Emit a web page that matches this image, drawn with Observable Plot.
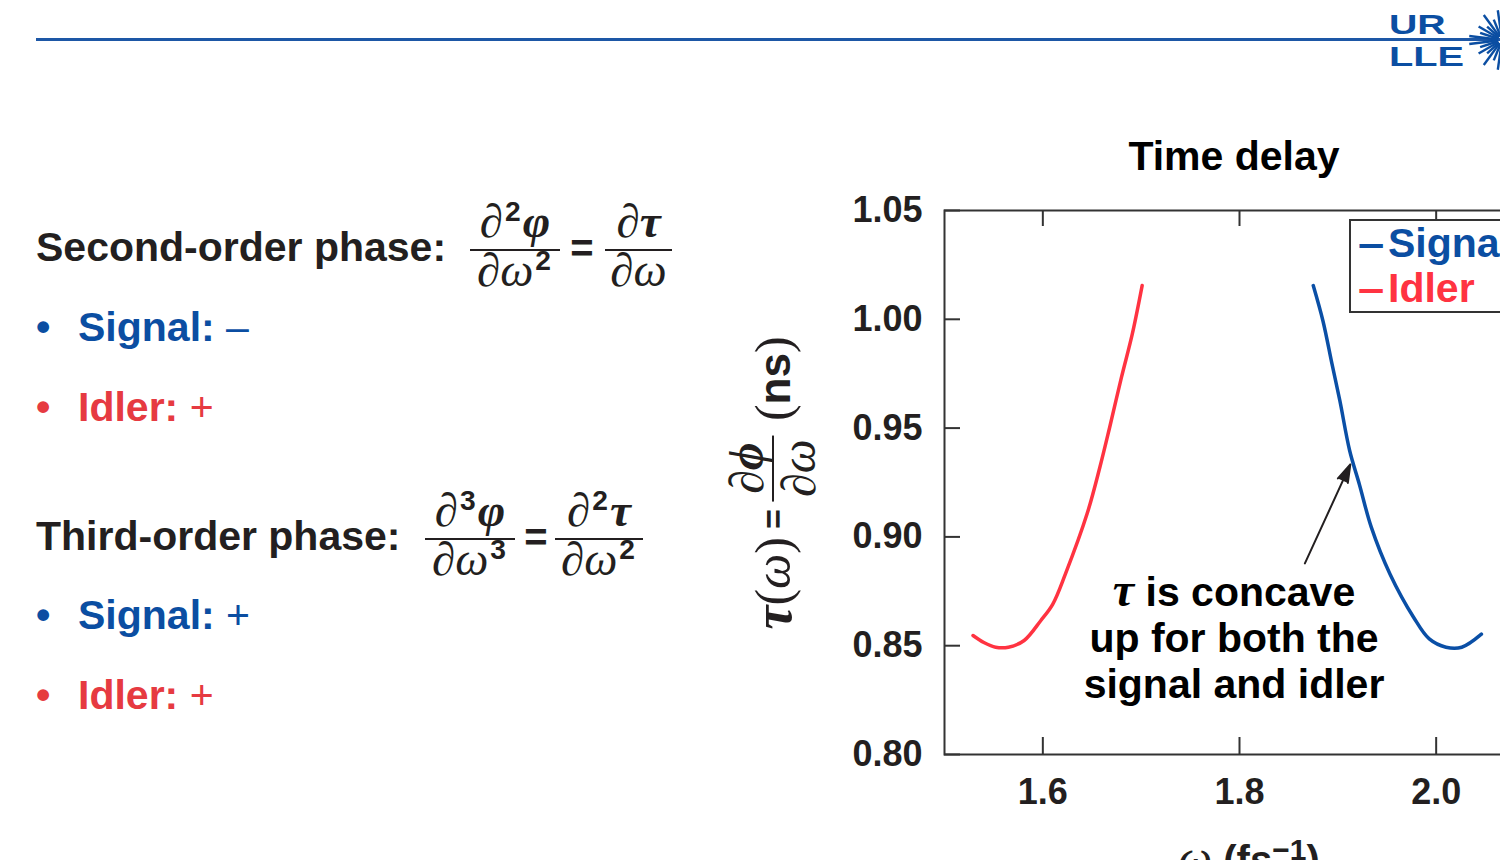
<!DOCTYPE html>
<html><head><meta charset="utf-8">
<script src="https://cdn.jsdelivr.net/npm/d3@7"></script>
<script src="https://cdn.jsdelivr.net/npm/@observablehq/plot@0.6"></script>
<style>
html,body{margin:0;padding:0;width:1500px;height:860px;overflow:hidden;background:#fff;}
body{position:relative;font-family:"Liberation Sans",Arial,sans-serif;color:#231f20;}
.abs{position:absolute;white-space:nowrap;line-height:1;}
.t41{font-size:41px;font-weight:bold;}
.m{font-family:"Liberation Serif","DejaVu Serif",serif;font-style:italic;font-weight:normal;}
.mb{font-family:"Liberation Serif","DejaVu Serif",serif;font-style:italic;font-weight:bold;}
.sup{font-family:"Liberation Sans",Arial,sans-serif;font-style:normal;font-weight:bold;font-size:0.6em;position:relative;top:-0.55em;margin:0 2px;}
.reg{font-weight:normal;}
.bar{position:absolute;height:2px;background:#231f20;}
#plotwrap{position:absolute;left:800px;top:120px;width:750px;height:740px;}
#plotwrap svg{overflow:visible;max-width:none !important;}
</style>
</head><body>
<div id="root"></div>
<script>
// ---------------- data ----------------
const idlerOmega  = [1.529, 1.540, 1.552, 1.565, 1.581, 1.598, 1.610, 1.623, 1.645, 1.658, 1.668, 1.680, 1.691, 1.701];
const idlerTau    = [0.8547, 0.8515, 0.8493, 0.8493, 0.8524, 0.8616, 0.8690, 0.8830, 0.9106, 0.9320, 0.9504, 0.9734, 0.9933, 1.0155];
const signalOmega = [1.875, 1.885, 1.894, 1.902, 1.912, 1.922, 1.934, 1.953, 1.977, 1.993, 2.010, 2.026, 2.046];
const signalTau   = [1.0155, 0.9990, 0.9796, 0.9627, 0.9397, 0.9240, 0.9045, 0.8830, 0.8631, 0.8531, 0.8493, 0.8493, 0.8553];
const seriesNames  = ["Signal", "Idler"];
const seriesColors = ["#0a4fa6", "#ff3341"];
const textBlue = "#0b4ea2", textRed = "#e63a41";
const xTicks = [1.6, 1.8, 2.0];
const yTicks = [0.80, 0.85, 0.90, 0.95, 1.00, 1.05];
const xDomain = [1.5, 2.1];
const yDomain = [0.80, 1.05];
const chartTitle = "Time delay";
const annotationLines = ["τ is concave", "up for both the", "signal and idler"];
const annotationX = [1.7944];
const annotationY = [0.8538];
const arrowX = [1.8665, 1.9127];
const arrowY = [0.8878, 0.9333];

// ---------------- page decorations & text ----------------
const root = document.getElementById("root");
function add(html){ root.insertAdjacentHTML("beforeend", html); }

// header rule + logo
add(`<div class="abs" style="left:36px;top:38px;width:1464px;height:3px;background:#1d57a6"></div>`);
add(`<div class="abs" style="left:1389px;top:9px;font:bold 28px 'Liberation Sans';color:#0b4ea2;transform:scaleX(1.4);transform-origin:left top;">UR</div>`);
add(`<div class="abs" style="left:1389px;top:41px;font:bold 28px 'Liberation Sans';color:#0b4ea2;transform:scaleX(1.42);transform-origin:left top;">LLE</div>`);
(function(){
  const angs=[-82,-68,-54,-42,-30,-18,-7,7,18,30,42,54,68,82];
  const lens=[30,22,31,20,27,23,33,33,23,27,20,31,22,30];
  let s=`<svg class="abs" style="left:1460px;top:0px" width="40" height="80">`;
  angs.forEach((a,i)=>{const r=(180+a)*Math.PI/180, cx=42, cy=40;
    s+=`<line x1="${cx+4*Math.cos(r)}" y1="${cy+4*Math.sin(r)}" x2="${cx+lens[i]*Math.cos(r)}" y2="${cy+lens[i]*Math.sin(r)}" stroke="#0b4ea2" stroke-width="2.4"/>`;});
  s+=`</svg>`; add(s);
})();

// left text
function line(top, html){ add(`<div class="abs t41" style="left:36px;top:${top}px">${html}</div>`); }
line(227, `Second-order phase:`);
line(307, `<span style="color:${textBlue}"><span style="display:inline-block;width:42px">•</span>Signal: <span class="reg">–</span></span>`);
line(387, `<span style="color:${textRed}"><span style="display:inline-block;width:42px">•</span>Idler: <span class="reg">+</span></span>`);
line(516, `Third-order phase:`);
line(595, `<span style="color:${textBlue}"><span style="display:inline-block;width:42px">•</span>Signal: <span class="reg">+</span></span>`);
line(675, `<span style="color:${textRed}"><span style="display:inline-block;width:42px">•</span>Idler: <span class="reg">+</span></span>`);

function frac(left, width, numBase, barY, denBase, num, den){
  const fs=47, off=0.8375*fs;
  add(`<div class="abs" style="left:${left}px;width:${width}px;top:${numBase-off}px;text-align:center;font-size:${fs}px">${num}</div>`);
  add(`<div class="bar" style="left:${left}px;width:${width}px;top:${barY}px"></div>`);
  add(`<div class="abs" style="left:${left}px;width:${width}px;top:${denBase-off}px;text-align:center;font-size:${fs}px">${den}</div>`);
}
function eq(cx, cy){ add(`<div class="abs" style="left:${cx-15}px;width:30px;text-align:center;top:${cy-24}px;font:bold 40px 'Liberation Sans';">=</div>`); }
const d="<span class='m'>∂</span>";
frac(470, 90, 236, 249, 285, `${d}<span class="sup">2</span><span class="mb">φ</span>`, `${d}<span class="m">ω</span><span class="sup">2</span>`);
eq(582, 250);
frac(605, 67, 236, 249, 285, `${d}<span class="mb">τ</span>`, `${d}<span class="m">ω</span>`);
frac(425, 90, 525, 538, 574, `${d}<span class="sup">3</span><span class="mb">φ</span>`, `${d}<span class="m">ω</span><span class="sup">3</span>`);
eq(536, 539);
frac(555, 88, 525, 538, 574, `${d}<span class="sup">2</span><span class="mb">τ</span>`, `${d}<span class="m">ω</span><span class="sup">2</span>`);

// chart title
add(`<div class="abs t41" style="left:1234px;top:136px;transform:translateX(-50%);color:#000">${chartTitle}</div>`);

// y-axis label (rotated)
add(`<div class="abs" style="left:773px;top:483px;transform:translate(-50%,-50%) rotate(-90deg);display:flex;align-items:center;color:#231f20">
  <span class="mb" style="font-size:54px">τ</span>
  <span style="font-family:'Liberation Serif',serif;font-size:50px">(<span class="m">ω</span>)</span>
  <span style="font:bold 34px 'Liberation Sans';margin:0 8px">=</span>
  <span style="display:inline-flex;flex-direction:column;align-items:center;font-size:48px">
    <span class="mb" style="line-height:1">∂ϕ</span>
    <span style="display:block;width:66px;height:2px;background:#231f20;margin:1px 0"></span>
    <span class="m" style="line-height:1">∂ω</span>
  </span>
  <span style="font-family:'Liberation Serif',serif;font-size:50px;margin-left:14px">(<b style="font-family:'Liberation Sans';font-size:44px">ns</b>)</span>
</div>`);

// x-axis label
add(`<div class="abs" style="left:1249px;top:830px;transform:translateX(-50%);font:bold 40px 'Liberation Sans';color:#231f20"><span class="m" style="font-size:48px">ω</span> (fs<span style="font-size:30px;position:relative;top:-14px">−1</span>)</div>`);

// ---------------- chart ----------------
const idler = idlerOmega.map((x,i)=>({omega:x, tau:idlerTau[i]}));
const signal = signalOmega.map((x,i)=>({omega:x, tau:signalTau[i]}));
const frameW = 590, frameH = 544;
const chart = Plot.plot({
  width: 750, height: 740,
  marginLeft: 144, marginRight: 16, marginTop: 90, marginBottom: 106,
  x: {domain: xDomain},
  y: {domain: yDomain},
  style: {fontFamily: "Liberation Sans, Arial, sans-serif", fontSize: "36px", fontWeight: "bold", color: "#231f20", background: "transparent", maxWidth: "none"},
  marks: [
    Plot.axisX({ticks: xTicks, tickSize: 0, tickPadding: 24, label: null, tickFormat: d3.format(".1f")}),
    Plot.axisY({ticks: yTicks, tickSize: 0, tickPadding: 22, label: null, tickFormat: d3.format(".2f")}),
    Plot.tickX(xTicks, {x: d=>d, insetTop: frameH-17, stroke: "#333", strokeWidth: 2}),
    Plot.tickX(xTicks, {x: d=>d, insetBottom: frameH-16, stroke: "#333", strokeWidth: 2}),
    Plot.tickY(yTicks, {y: d=>d, insetRight: frameW-16, stroke: "#333", strokeWidth: 2}),
    Plot.frame({stroke: "#333", strokeWidth: 2}),
    Plot.line(idler, {x: "omega", y: "tau", stroke: seriesColors[1], strokeWidth: 3.5, curve: "catmull-rom"}),
    Plot.line(signal, {x: "omega", y: "tau", stroke: seriesColors[0], strokeWidth: 3.5, curve: "catmull-rom"}),
    Plot.text(annotationX, {x: d=>d, y: (d,i)=>annotationY[i], text: ()=>annotationLines.join("\n"), fontSize: 41, lineHeight: 1.12, fill: "#000"}),
    Plot.arrow([0], {x1: ()=>arrowX[0], y1: ()=>arrowY[0], x2: ()=>arrowX[1], y2: ()=>arrowY[1], stroke: "#231f20", fill: "#231f20", strokeWidth: 2, headLength: 14, headAngle: 34})
  ]
});
const wrap = document.createElement("div");
wrap.id = "plotwrap";
wrap.appendChild(chart);
document.body.appendChild(wrap);

// serif italic tau in annotation
chart.querySelectorAll("tspan").forEach(t=>{
  if (t.textContent.startsWith("τ")) {
    const rest = t.textContent.slice(1);
    t.textContent = "";
    const ns = "http://www.w3.org/2000/svg";
    const tau = document.createElementNS(ns, "tspan");
    tau.setAttribute("font-family", "Liberation Serif, serif");
    tau.setAttribute("font-style", "italic");
    tau.setAttribute("font-size", "48");
    tau.textContent = "τ";
    t.appendChild(tau);
    t.appendChild(document.createTextNode(rest));
  }
});

// legend (drawn over the chart)
const lg = document.createElement("div");
lg.className = "abs";
lg.style.cssText = "left:1349px;top:219px;width:220px;height:90px;border:2px solid #333;background:#fff;padding-left:7px;box-sizing:content-box;";
lg.innerHTML = seriesNames.map((n,i)=>`<div style="font:bold 41px 'Liberation Sans';line-height:45px;color:${i===0?textBlue:seriesColors[1]}"><span style="display:inline-block;width:30px;transform:scaleX(1.15);transform-origin:left center">–</span>${n}</div>`).join("");
document.body.appendChild(lg);
</script>
</body></html>
